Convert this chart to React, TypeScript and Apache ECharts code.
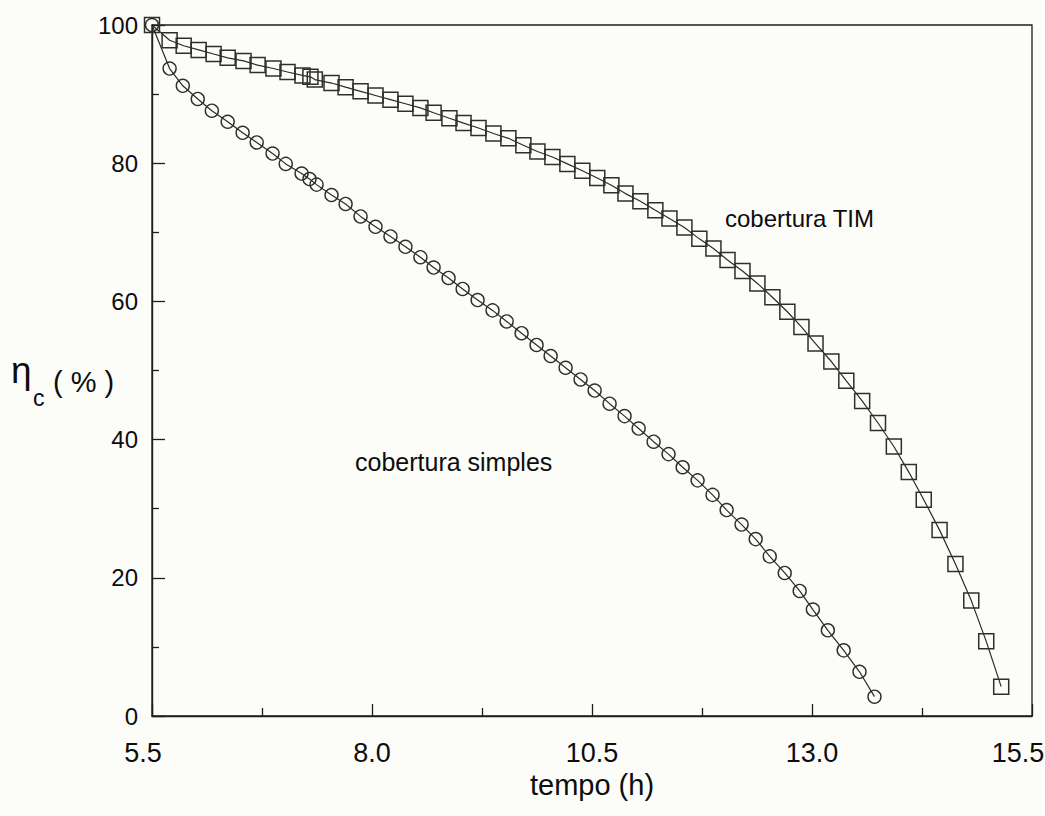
import React, { useEffect, useRef } from "react";
import * as echarts from "echarts";

// Time axis starts at 5.5 h; values are plotted relative to this origin so
// the major ticks fall on 5.5, 8.0, 10.5, 13.0 and 15.5.
const TIME_ORIGIN = 5.5;
const TIME_TICKS = [5.5, 8.0, 10.5, 13.0, 15.5];
const ETA_TICKS = [0, 20, 40, 60, 80, 100];

// cobertura simples (circles)
const simplesTime = [
  5.5, 5.7, 5.85, 6.02, 6.18, 6.36, 6.53, 6.69, 6.87, 7.02, 7.2, 7.29, 7.37,
  7.54, 7.7, 7.87, 8.04, 8.21, 8.38, 8.55, 8.7, 8.87, 9.03, 9.2, 9.37, 9.53,
  9.7, 9.87, 10.03, 10.2, 10.37, 10.53, 10.7, 10.87, 11.03, 11.2, 11.37, 11.53,
  11.7, 11.87, 12.03, 12.2, 12.36, 12.52, 12.69, 12.86, 13.01, 13.18, 13.36,
  13.54, 13.71,
];
const simplesEta = [
  100, 93.7, 91.2, 89.3, 87.6, 86.0, 84.4, 83.0, 81.4, 79.9, 78.5, 77.7, 76.9,
  75.4, 74.1, 72.3, 70.8, 69.4, 67.9, 66.4, 64.9, 63.4, 61.8, 60.2, 58.7, 57.1,
  55.4, 53.7, 52.1, 50.4, 48.7, 47.1, 45.2, 43.4, 41.6, 39.7, 37.9, 36.0, 34.1,
  32.0, 29.8, 27.7, 25.6, 23.1, 20.7, 18.1, 15.4, 12.4, 9.5, 6.4, 2.8,
];

// cobertura TIM (squares)
const timTime = [
  5.5, 5.7, 5.86, 6.03, 6.2, 6.36, 6.54, 6.7, 6.88, 7.04, 7.21, 7.3, 7.35,
  7.54, 7.7, 7.87, 8.04, 8.21, 8.38, 8.55, 8.7, 8.88, 9.04, 9.21, 9.38, 9.55,
  9.72, 9.88, 10.05, 10.22, 10.39, 10.56, 10.72, 10.88, 11.05, 11.22, 11.38,
  11.55, 11.72, 11.88, 12.04, 12.21, 12.38, 12.55, 12.72, 12.88, 13.04, 13.22,
  13.39, 13.57, 13.75, 13.93, 14.1, 14.27, 14.45, 14.63, 14.81, 14.98, 15.15,
];
const timEta = [
  100, 97.8, 97.0, 96.4, 95.8, 95.25, 94.8, 94.2, 93.7, 93.2, 92.7, 92.5, 92.1,
  91.6, 91.0, 90.4, 89.8, 89.2, 88.6, 88.0, 87.3, 86.5, 85.8, 85.1, 84.3, 83.6,
  82.6, 81.7, 80.9, 79.9, 78.9, 77.85, 76.8, 75.6, 74.5, 73.2, 72.0, 70.7,
  69.05, 67.65, 66.0, 64.4, 62.6, 60.6, 58.5, 56.3, 53.9, 51.3, 48.5, 45.6,
  42.4, 39.0, 35.3, 31.3, 26.9, 22.0, 16.7, 10.8, 4.25,
];

const FONT = '"Liberation Sans", Arial, Helvetica, sans-serif';
const INK = "#0d0d0d";
const MARK = "#2e2e2e";
const TICK_FONT = 27;

const GRID = { left: 152, top: 25, width: 880, height: 691 };

function toPairs(ts: number[], ys: number[]) {
  return ts.map((t, i) => [t - TIME_ORIGIN, ys[i]]);
}

function label(text: string, x: number, y: number, fontSize: number, align = "left", vAlign = "middle") {
  return {
    type: "text",
    x,
    y,
    style: {
      text,
      fontSize,
      fontFamily: FONT,
      fill: INK,
      textAlign: align,
      textVerticalAlign: vAlign,
    },
  };
}

export default function App() {
  const ref = useRef<HTMLDivElement>(null);

  useEffect(() => {
    if (!ref.current) return;
    const chart = echarts.init(ref.current, null, { renderer: "svg" });
    const first = TIME_TICKS[0];
    const last = TIME_TICKS[TIME_TICKS.length - 1];
    const step = TIME_TICKS[1] - TIME_TICKS[0];
    const axisBottom = GRID.top + GRID.height;

    chart.setOption({
      animation: false,
      backgroundColor: "#fcfcf9",
      textStyle: { fontFamily: FONT, color: INK },
      grid: {
        left: GRID.left,
        top: GRID.top,
        width: GRID.width,
        height: GRID.height,
        show: true,
        borderColor: "#1e1e1e",
        borderWidth: 1.3,
        backgroundColor: "transparent",
      },
      xAxis: {
        type: "value",
        min: 0,
        max: last - first,
        interval: step,
        name: "tempo (h)",
        nameLocation: "middle",
        nameGap: 50,
        nameTextStyle: { fontSize: 29, color: INK, fontFamily: FONT },
        axisLine: { show: true, lineStyle: { color: "#1e1e1e", width: 1.4 } },
        axisTick: { show: true, inside: true, length: 12, lineStyle: { color: "#1e1e1e", width: 1.3 } },
        minorTick: { show: true, splitNumber: 2, length: 8, lineStyle: { color: "#1e1e1e", width: 1.3 } },
        splitLine: { show: false },
        minorSplitLine: { show: false },
        axisLabel: {
          fontSize: TICK_FONT,
          color: INK,
          fontFamily: FONT,
          margin: 23,
          showMinLabel: false,
          showMaxLabel: false,
          formatter: (v: number) => (v + TIME_ORIGIN).toFixed(1),
        },
      },
      yAxis: {
        type: "value",
        min: ETA_TICKS[0],
        max: ETA_TICKS[ETA_TICKS.length - 1],
        interval: ETA_TICKS[1] - ETA_TICKS[0],
        axisLine: { show: true, lineStyle: { color: "#1e1e1e", width: 1.4 } },
        axisTick: { show: true, inside: true, length: 13, lineStyle: { color: "#1e1e1e", width: 1.3 } },
        minorTick: { show: true, splitNumber: 2, length: 7, lineStyle: { color: "#1e1e1e", width: 1.3 } },
        splitLine: { show: false },
        minorSplitLine: { show: false },
        axisLabel: { fontSize: 24, color: INK, fontFamily: FONT, margin: 14 },
      },
      series: [
        {
          name: "cobertura TIM",
          type: "line",
          data: toPairs(timTime, timEta),
          symbol: "rect",
          symbolSize: 15,
          showAllSymbol: true,
          lineStyle: { color: "#2a2a2a", width: 1.2 },
          itemStyle: { color: "rgba(0,0,0,0)", borderColor: MARK, borderWidth: 1.5 },
          z: 3,
        },
        {
          name: "cobertura simples",
          type: "line",
          data: toPairs(simplesTime, simplesEta),
          symbol: "circle",
          symbolSize: 13,
          showAllSymbol: true,
          lineStyle: { color: "#2a2a2a", width: 1.2 },
          itemStyle: { color: "rgba(0,0,0,0)", borderColor: MARK, borderWidth: 1.4 },
          z: 3,
        },
      ],
      graphic: [
        // end labels of the time axis sit slightly off their ticks
        label(first.toFixed(1), 143, axisBottom + 23, TICK_FONT, "center", "top"),
        label(last.toFixed(1), 1018, axisBottom + 23, TICK_FONT, "center", "top"),
        // axis title: eta with subscript c
        label("η", 11, 370, 37),
        label("c", 33, 398, 23),
        label("( % )", 53, 382, 29),
        // curve annotations
        label("cobertura TIM", 725, 218, 24),
        label("cobertura simples", 355, 462, 25),
      ],
    });

    return () => chart.dispose();
  }, []);

  return (
    <div
      ref={ref}
      style={{ position: "fixed", left: 0, top: 0, width: 1045, height: 816 }}
    />
  );
}
